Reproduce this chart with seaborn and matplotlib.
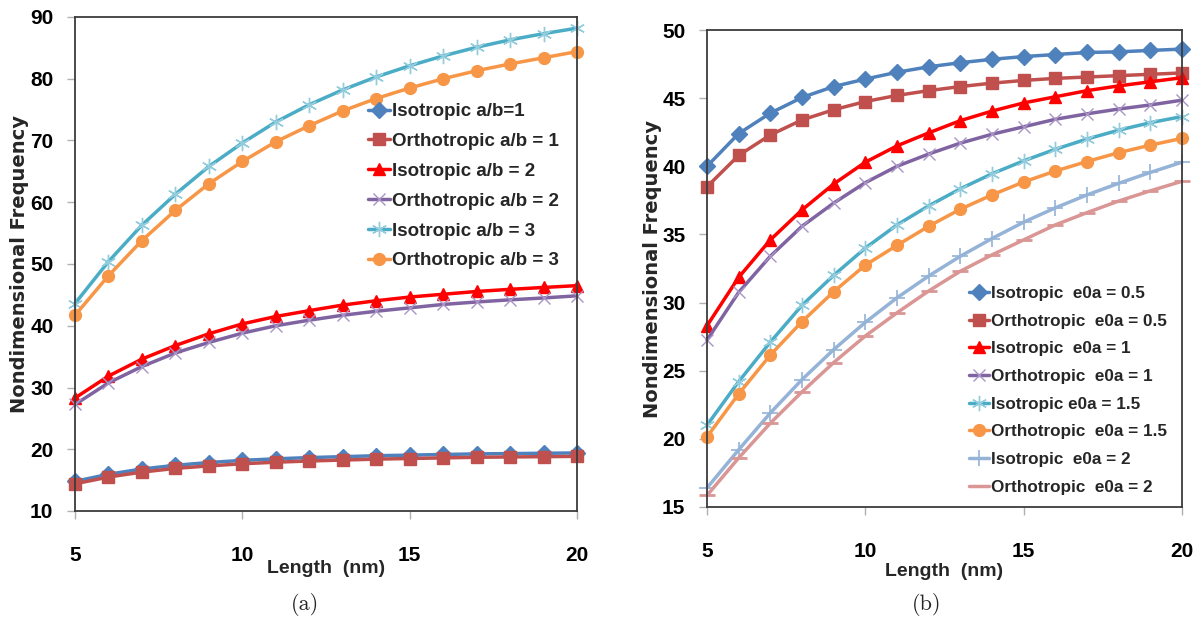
import numpy as np
import pandas as pd
import matplotlib
matplotlib.use("Agg")
import matplotlib.pyplot as plt
import seaborn as sns

# Plate length (nm)
length = [5, 6, 7, 8, 9, 10, 11, 12, 13, 14, 15, 16, 17, 18, 19, 20]

# (a) aspect ratio a/b
iso_ab1 = [14.8, 15.95, 16.8, 17.4, 17.85, 18.2, 18.45, 18.65, 18.8, 18.95, 19.05, 19.15, 19.25, 19.3, 19.35, 19.4]
ortho_ab1 = [14.4, 15.5, 16.3, 16.9, 17.3, 17.65, 17.9, 18.1, 18.25, 18.4, 18.5, 18.6, 18.7, 18.75, 18.8, 18.85]
iso_ab2 = [28.3, 31.85, 34.6, 36.8, 38.7, 40.3, 41.5, 42.45, 43.35, 44.05, 44.65, 45.1, 45.55, 45.9, 46.2, 46.5]
ortho_ab2 = [27.25, 30.75, 33.4, 35.6, 37.3, 38.8, 40.0, 40.9, 41.7, 42.35, 42.9, 43.45, 43.85, 44.2, 44.5, 44.85]
iso_ab3 = [43.6, 50.4, 56.3, 61.3, 65.8, 69.6, 73.0, 75.8, 78.2, 80.3, 82.1, 83.7, 85.1, 86.3, 87.3, 88.2]
ortho_ab3 = [41.7, 48.1, 53.8, 58.7, 63.0, 66.6, 69.8, 72.4, 74.8, 76.8, 78.5, 80.0, 81.3, 82.4, 83.4, 84.4]

# (b) nonlocal parameter e0a
iso_e05 = [40.0, 42.4, 43.9, 45.05, 45.85, 46.4, 46.9, 47.3, 47.6, 47.85, 48.05, 48.2, 48.35, 48.4, 48.5, 48.6]
ortho_e05 = [38.5, 40.8, 42.3, 43.4, 44.15, 44.75, 45.2, 45.55, 45.85, 46.1, 46.3, 46.45, 46.55, 46.65, 46.75, 46.85]
iso_e1 = [28.3, 31.85, 34.6, 36.8, 38.7, 40.3, 41.5, 42.45, 43.35, 44.05, 44.65, 45.1, 45.55, 45.9, 46.2, 46.5]
ortho_e1 = [27.25, 30.75, 33.4, 35.6, 37.3, 38.8, 40.0, 40.9, 41.7, 42.35, 42.9, 43.45, 43.85, 44.2, 44.5, 44.85]
iso_e15 = [21.0, 24.2, 27.1, 29.8, 32.0, 34.0, 35.7, 37.1, 38.35, 39.45, 40.4, 41.25, 42.0, 42.65, 43.2, 43.65]
ortho_e15 = [20.15, 23.3, 26.15, 28.6, 30.8, 32.75, 34.2, 35.6, 36.85, 37.9, 38.85, 39.65, 40.35, 41.0, 41.55, 42.05]
iso_e2 = [16.4, 19.2, 21.9, 24.35, 26.55, 28.55, 30.35, 31.95, 33.4, 34.7, 35.9, 36.95, 37.9, 38.75, 39.55, 40.3]
ortho_e2 = [15.85, 18.6, 21.15, 23.45, 25.6, 27.55, 29.25, 30.85, 32.3, 33.5, 34.6, 35.7, 36.6, 37.45, 38.2, 38.9]

labels_a = ["Isotropic a/b=1", "Orthotropic a/b = 1", "Isotropic a/b = 2",
            "Orthotropic a/b = 2", "Isotropic a/b = 3", "Orthotropic a/b = 3"]
labels_b = ["Isotropic  e0a = 0.5", "Orthotropic  e0a = 0.5", "Isotropic  e0a = 1",
            "Orthotropic  e0a = 1", "Isotropic e0a = 1.5", "Orthotropic  e0a = 1.5",
            "Isotropic  e0a = 2", "Orthotropic  e0a = 2"]
yticks_a = [10, 20, 30, 40, 50, 60, 70, 80, 90]
yticks_b = [15, 20, 25, 30, 35, 40, 45, 50]
xticks = [5, 10, 15, 20]

sns.set_theme(style="white")
plt.rcParams["font.family"] = ["Liberation Sans", "DejaVu Sans"]

# colour, marker, marker size, marker edge colour, marker edge width
styles = [
    ("#4F81BD", "D", 8.5, "#4F81BD", 1.0),
    ("#C0504D", "s", 8, "#C0504D", 1.0),
    ("#FF0000", "^", 9, "#FF0000", 1.0),
    ("#8064A2", "x", 9, "#A994C6", 1.0),
    ("#4BACC6", (6, 2, 0), 11, "#93CDDD", 1.0),
    ("#F79646", "o", 8.5, "#F79646", 1.0),
    ("#95B3D7", "+", 11, "#95B3D7", 1.2),
    ("#D99694", "_", 11, "#D99694", 2.0),
]

SPINE = "#3c3c3c"


def draw_panel(ax, series, labels, yticks, ylim):
    for vals, lab, (col, mk, ms, mec, mew) in zip(series, labels, styles):
        df = pd.DataFrame({"Length": length, "Freq": vals})
        sns.lineplot(data=df, x="Length", y="Freq", ax=ax, color=col, lw=2.5,
                     marker=mk, markersize=ms, markeredgecolor=mec,
                     markerfacecolor=col, markeredgewidth=mew,
                     label=lab, clip_on=False, estimator=None, sort=False)
    ax.set_xlim(5, 20)
    ax.set_ylim(*ylim)
    ax.set_xticks(xticks)
    ax.set_yticks(yticks)
    for s in ax.spines.values():
        s.set_color(SPINE)
        s.set_linewidth(1.3)
        s.set_visible(True)
    ax.tick_params(axis="both", which="both", direction="out", length=6,
                   width=1.0, color="#b0b0b0", labelsize=15, labelcolor="black",
                   left=True, bottom=True)
    ax.tick_params(axis="x", pad=19)
    ax.tick_params(axis="y", pad=9.5)
    for t in ax.get_xticklabels() + ax.get_yticklabels():
        t.set_fontweight("bold")
    ax.set_xlabel("Length  (nm)", fontsize=14, fontweight="bold",
                  family=["Liberation Sans", "DejaVu Sans"])
    ax.set_ylabel("Nondimensional Frequency", fontsize=14, fontweight="bold",
                  family=["DejaVu Sans"])
    ax.grid(False)


fig = plt.figure(figsize=(11.99, 6.21), dpi=100)
fig.patch.set_facecolor("white")

ax_a = fig.add_axes([75 / 1199, 1 - 511 / 621, 502 / 1199, 494 / 621])
ax_b = fig.add_axes([707 / 1199, 1 - 507 / 621, 475 / 1199, 477 / 621])

draw_panel(ax_a, [iso_ab1, ortho_ab1, iso_ab2, ortho_ab2, iso_ab3, ortho_ab3],
           labels_a, yticks_a, (10, 90))
draw_panel(ax_b, [iso_e05, ortho_e05, iso_e1, ortho_e1, iso_e15, ortho_e15, iso_e2, ortho_e2],
           labels_b, yticks_b, (15, 50))

ax_a.yaxis.set_label_coords(-0.092, 0.5)
ax_b.yaxis.set_label_coords(-0.095, 0.5)
ax_a.xaxis.set_label_coords(0.5, -0.1)
ax_b.xaxis.set_label_coords(0.5, -0.118)

leg_kw = dict(loc="upper left", frameon=False, borderpad=0, borderaxespad=0,
              handlelength=1.15, handletextpad=0.1)
ax_a.legend(bbox_to_anchor=(0.584, 0.826), labelspacing=0.68,
            prop={"family": "Liberation Sans", "weight": "bold", "size": 13.5},
            **leg_kw)
ax_b.legend(bbox_to_anchor=(0.552, 0.463), labelspacing=0.74,
            prop={"family": "Liberation Sans", "weight": "bold", "size": 12.3},
            **leg_kw)

fig.text(305 / 1199, 1 - 605 / 621, "(a)", ha="center", va="center",
         family="cmr10", fontsize=16)
fig.text(927 / 1199, 1 - 605 / 621, "(b)", ha="center", va="center",
         family="cmr10", fontsize=16)

fig.savefig("out.png", dpi=100, facecolor="white")
